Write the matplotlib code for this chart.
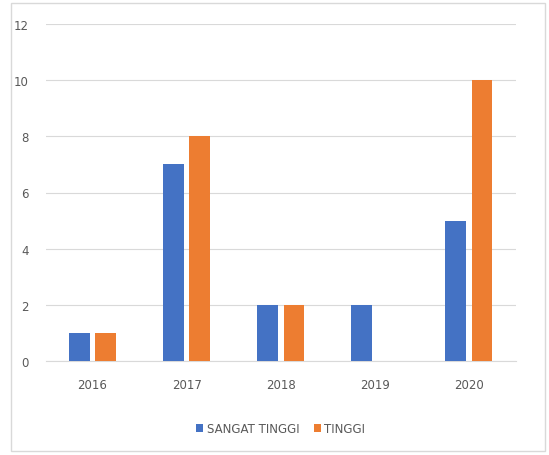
import matplotlib
matplotlib.use("Agg")
import matplotlib.pyplot as plt
import numpy as np
from matplotlib.patches import Rectangle

years = ["2016", "2017", "2018", "2019", "2020"]
sangat_tinggi = [1, 7, 2, 2, 5]
tinggi = [1, 8, 2, 0, 10]
yticks = [0, 2, 4, 6, 8, 10, 12]

fig = plt.figure(figsize=(5.49, 4.56), dpi=100)
fig.patch.set_facecolor("white")
fig.patches.append(Rectangle((11/549, 4/456), 534/549, 448/456, transform=fig.transFigure,
                             fill=False, edgecolor="#d9d9d9", linewidth=1))
ax = fig.add_axes([45.5/549, 94/456, 470.5/549, 337/456])
x = np.arange(len(years))
w = 0.22
off = 0.14
ax.bar(x - off, sangat_tinggi, w, color="#4472C4", label="SANGAT TINGGI", zorder=3)
ax.bar(x + off, tinggi, w, color="#ED7D31", label="TINGGI", zorder=3)
ax.set_xlim(-0.5, len(years) - 0.5)
ax.set_ylim(0, 12)
ax.set_yticks(yticks)
ax.set_xticks(x)
ax.set_xticklabels(years)
ax.grid(axis="y", color="#d9d9d9", linewidth=0.8, zorder=0)
for s in ["top", "right", "left"]:
    ax.spines[s].set_visible(False)
ax.spines["bottom"].set_color("#d9d9d9")
ax.tick_params(axis="both", length=0, colors="#595959", labelsize=8.5)
ax.tick_params(axis="x", pad=12)
ax.tick_params(axis="y", pad=12)
leg = ax.legend(loc="upper center", bbox_to_anchor=(0.5, -0.15), ncol=2, frameon=False,
                fontsize=8.5, handlelength=0.6, handleheight=0.6, columnspacing=1.2, handletextpad=0.3)
for t in leg.get_texts():
    t.set_color("#595959")
fig.savefig("out.png", dpi=100)
